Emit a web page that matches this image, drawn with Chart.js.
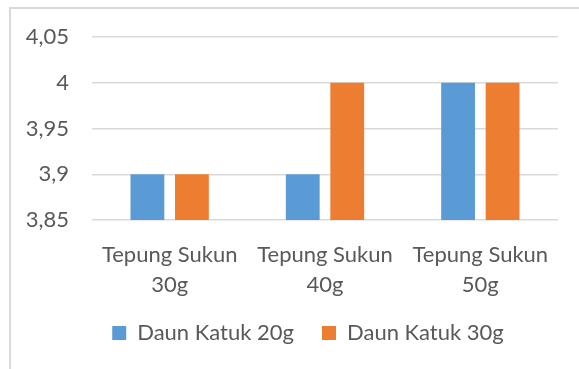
<!DOCTYPE html>
<html>
<head>
<meta charset="utf-8">
<script src="https://cdn.jsdelivr.net/npm/chart.js@4/dist/chart.umd.min.js"></script>
<style>
  html, body { margin: 0; padding: 0; background: #fff; }
  #wrap { position: relative; width: 579px; height: 369px; overflow: hidden; }
  #frame { position: absolute; left: 9px; top: 7px; width: 700px; height: 500px;
           border-left: 2px solid #d9d9d9; border-top: 2px solid #d9d9d9; pointer-events: none; }
  canvas { position: absolute; left: 0; top: 0; }
</style>
</head>
<body>
<div id="wrap">
  <canvas id="c" width="579" height="369"></canvas>
  <div id="frame"></div>
</div>
<script>
const categories = [['Tepung Sukun', '30g'], ['Tepung Sukun', '40g'], ['Tepung Sukun', '50g']];
const seriesNames = ['Daun Katuk 20g', 'Daun Katuk 30g'];
const daunKatuk20 = [3.9, 3.9, 4.0];
const daunKatuk30 = [3.9, 4.0, 4.0];
const yMin = 3.85, yMax = 4.05, yStep = 0.05;

const FONT = 'Lato';
const TEXT = '#595959';

const legendShift = {
  id: 'legendShift',
  afterLayout(chart) {
    const lg = chart.legend;
    if (lg) { lg.left -= 17; lg.right -= 17; lg.top -= 5; lg.bottom -= 5; }
  }
};

new Chart(document.getElementById('c'), {
  type: 'bar',
  data: {
    labels: categories,
    datasets: [
      { label: seriesNames[0], data: daunKatuk20, backgroundColor: '#5B9BD5',
        categoryPercentage: 0.573, barPercentage: 0.76 },
      { label: seriesNames[1], data: daunKatuk30, backgroundColor: '#ED7D31',
        categoryPercentage: 0.573, barPercentage: 0.76 }
    ]
  },
  plugins: [legendShift],
  options: {
    responsive: false,
    animation: false,
    layout: { padding: { left: 12, right: 21, top: 37, bottom: 10 } },
    plugins: {
      legend: {
        position: 'bottom',
        fullSize: false,
        labels: {
          boxWidth: 14, boxHeight: 14, padding: 28,
          color: TEXT, font: { family: FONT, size: 22 }
        }
      },
      tooltip: { enabled: false }
    },
    scales: {
      x: {
        grid: { display: false },
        border: { display: false },
        ticks: { color: TEXT, font: { family: FONT, size: 22, lineHeight: 1.35 }, maxRotation: 0, padding: 12 },
        afterFit: s => { s.height = 79; }
      },
      y: {
        min: yMin, max: yMax,
        border: { display: false },
        grid: { color: '#d9d9d9', lineWidth: 1.5, drawTicks: false },
        ticks: {
          stepSize: yStep, padding: 23, color: TEXT,
          font: { family: FONT, size: 22 },
          callback: v => String(Number(v.toFixed(2))).replace('.', ',')
        },
        afterFit: s => { s.width = 80; }
      }
    }
  }
});
</script>
</body>
</html>
